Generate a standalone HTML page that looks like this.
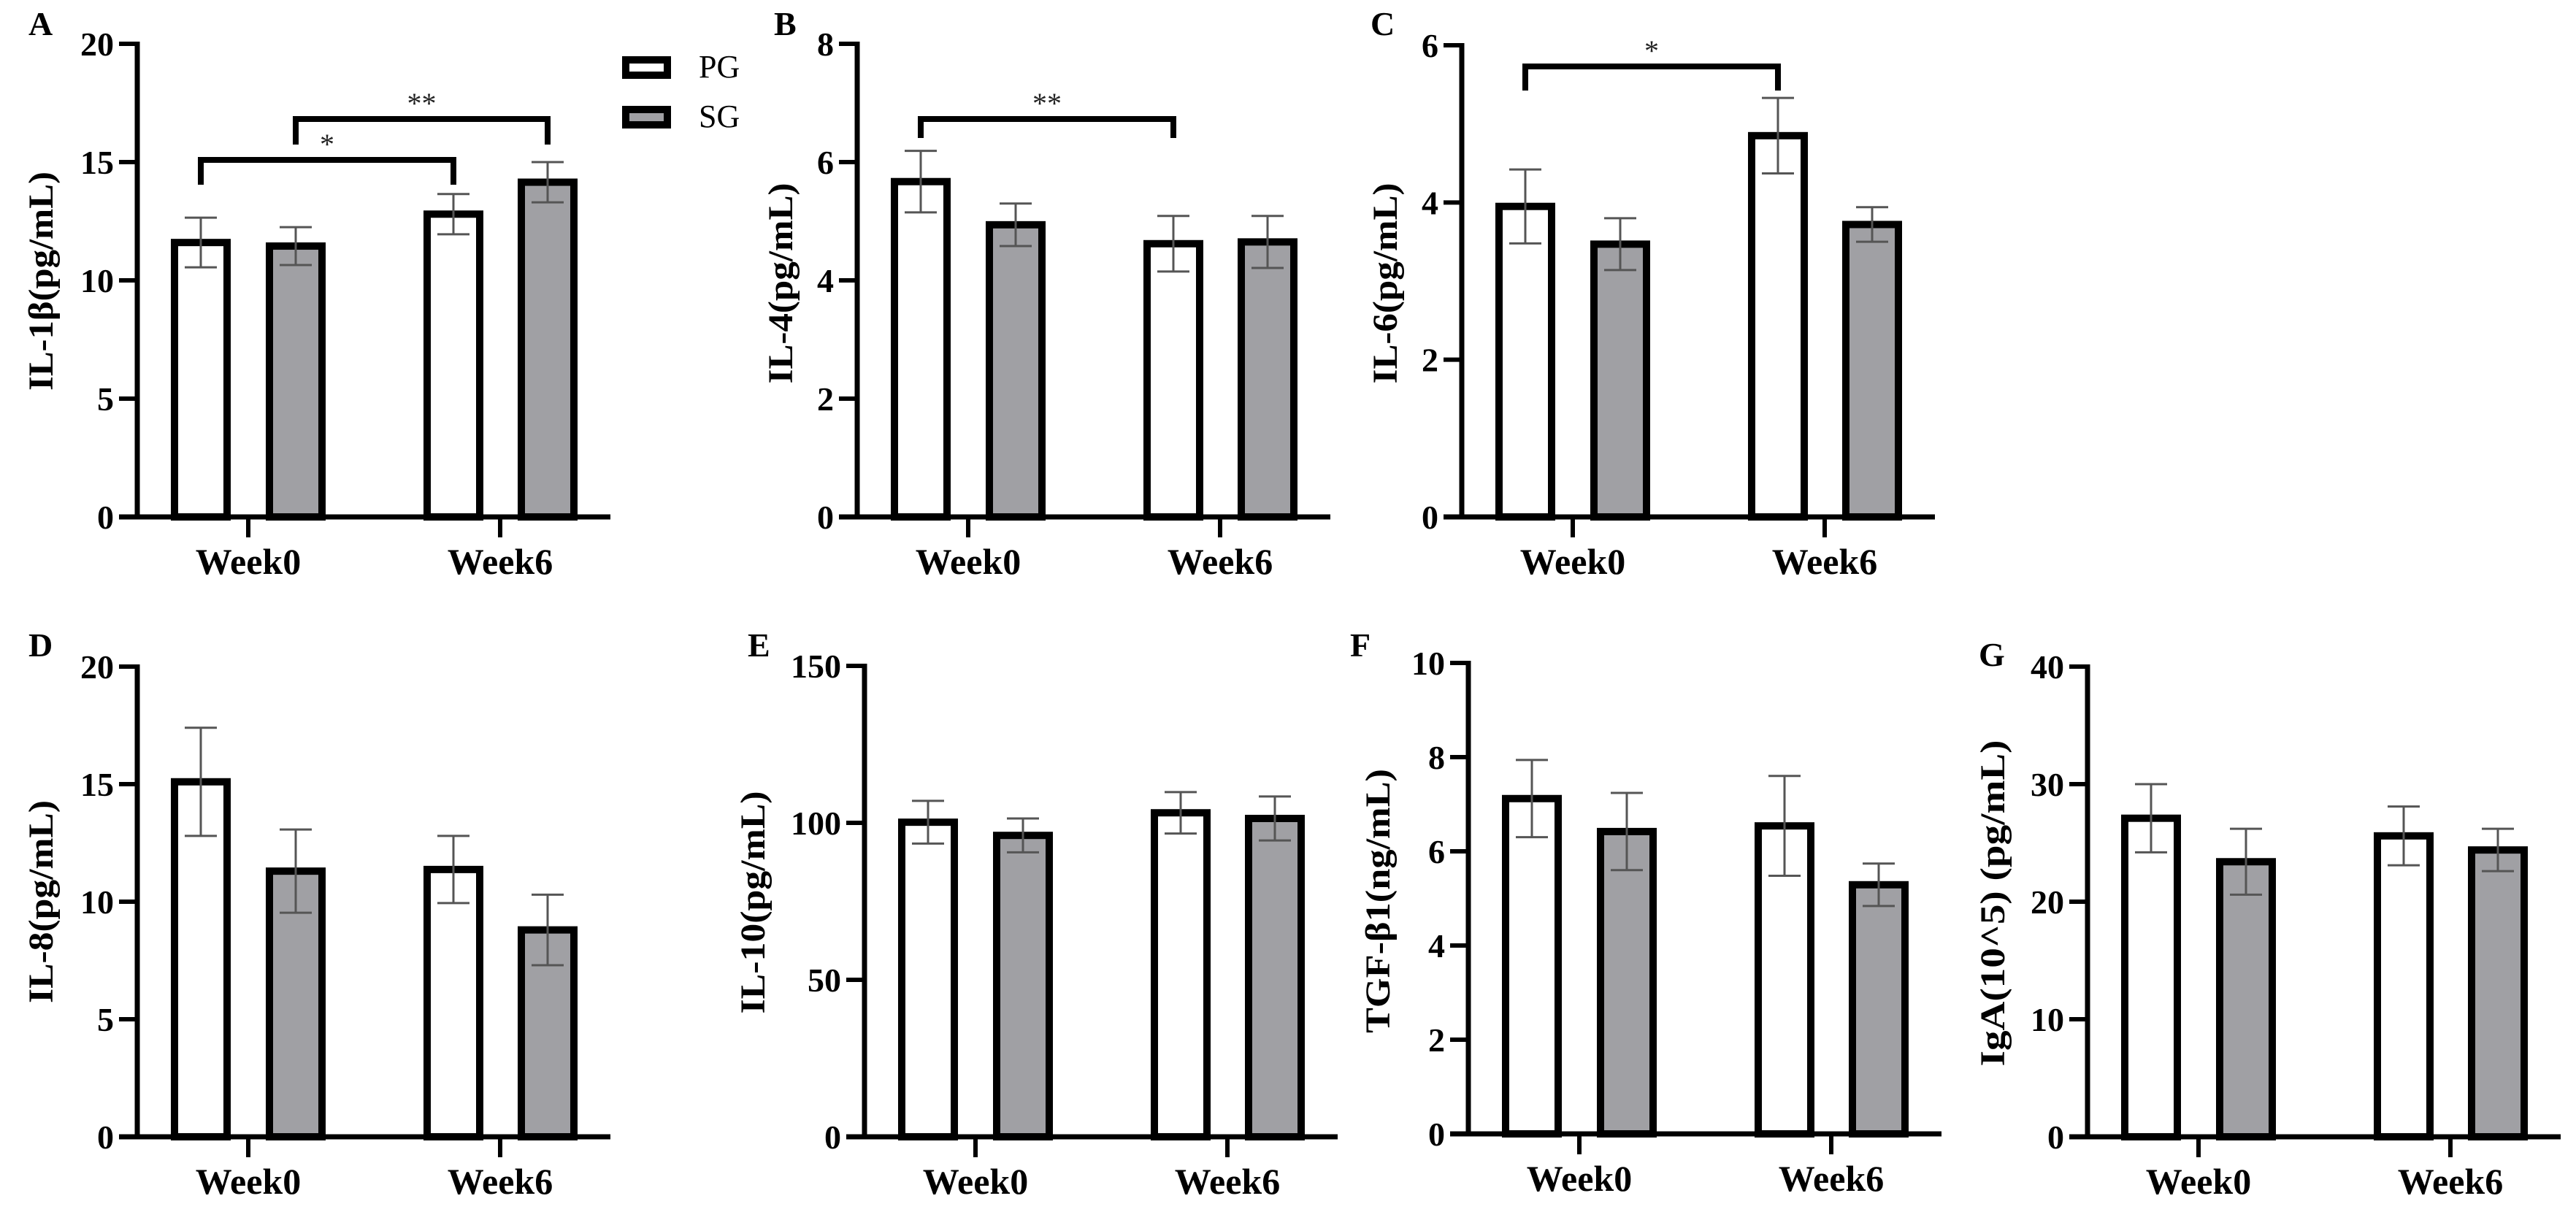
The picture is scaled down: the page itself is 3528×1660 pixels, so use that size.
<!DOCTYPE html>
<html><head><meta charset="utf-8"><style>
html,body{margin:0;padding:0;background:#fff;}
svg, svg text{font-family:"Liberation Serif","Times New Roman","DejaVu Serif",serif;}
</style></head><body>
<svg id="fig" width="3528" height="1655" viewBox="0 0 3528 1655" xmlns="http://www.w3.org/2000/svg" font-family="Liberation Serif, Times New Roman, DejaVu Serif, serif">
<g id="legend">
  <rect x="857" y="82" width="57" height="21" fill="#fff" stroke="#000" stroke-width="10"/>
  <text x="957" y="106" font-size="44" font-family="Liberation Serif, serif">PG</text>
  <rect x="857" y="150" width="57" height="21" fill="#a0a0a4" stroke="#000" stroke-width="10"/>
  <text x="957" y="174" font-size="44" font-family="Liberation Serif, serif">SG</text>
</g>
</svg>
<script>
const categories = ["Week0", "Week6"];
const groups = ["PG", "SG"];
// means: [PG Week0, SG Week0, PG Week6, SG Week6]
const aMeans = [11.6, 11.45, 12.8, 14.15];
const aErrs = [1.05, 0.8, 0.85, 0.85];
const aTicks = [0, 5, 10, 15, 20];
const bMeans = [5.67, 4.94, 4.62, 4.65];
const bErrs = [0.52, 0.36, 0.47, 0.44];
const bTicks = [0, 2, 4, 6, 8];
const cMeans = [3.95, 3.47, 4.85, 3.72];
const cErrs = [0.47, 0.33, 0.48, 0.22];
const cTicks = [0, 2, 4, 6];
const dMeans = [15.1, 11.3, 11.37, 8.8];
const dErrs = [2.3, 1.77, 1.43, 1.5];
const dTicks = [0, 5, 10, 15, 20];
const eMeans = [100.2, 96, 103.2, 101.4];
const eErrs = [6.8, 5.4, 6.6, 7.0];
const eTicks = [0, 50, 100, 150];
const fMeans = [7.12, 6.42, 6.54, 5.29];
const fErrs = [0.82, 0.82, 1.06, 0.45];
const fTicks = [0, 2, 4, 6, 8, 10];
const gMeans = [27.1, 23.4, 25.6, 24.4];
const gErrs = [2.9, 2.8, 2.5, 1.8];
const gTicks = [0, 10, 20, 30, 40];

const panels = [
 {id:"a", letter:"A", ax:188, y0:708, yt:60, means:aMeans, errs:aErrs, ticks:aTicks, label:"IL-1β(pg/mL)", lx:56, ly:385, ll:300, lp:[39,48]},
 {id:"b", letter:"B", ax:1174, y0:708, yt:60, means:bMeans, errs:bErrs, ticks:bTicks, label:"IL-4(pg/mL)", lx:1069, ly:388, ll:275, lp:[1060,48]},
 {id:"c", letter:"C", ax:2002, y0:708, yt:62, means:cMeans, errs:cErrs, ticks:cTicks, label:"IL-6(pg/mL)", lx:1897, ly:388, ll:275, lp:[1877,48]},
 {id:"d", letter:"D", ax:188, y0:1557, yt:913, means:dMeans, errs:dErrs, ticks:dTicks, label:"IL-8(pg/mL)", lx:56, ly:1235, ll:278, lp:[39,899]},
 {id:"e", letter:"E", ax:1184, y0:1557, yt:912, means:eMeans, errs:eErrs, ticks:eTicks, label:"IL-10(pg/mL)", lx:1031, ly:1236, ll:305, lp:[1024,899]},
 {id:"f", letter:"F", ax:2011, y0:1553, yt:908, means:fMeans, errs:fErrs, ticks:fTicks, label:"TGF-β1(ng/mL)", lx:1887, ly:1234, ll:362, lp:[1849,899]},
 {id:"g", letter:"G", ax:2859, y0:1557, yt:913, means:gMeans, errs:gErrs, ticks:gTicks, label:"IgA(10^5) (pg/mL)", lx:2729, ly:1237, ll:447, lp:[2710,912]}
];
const sig = {
 a:[{from:0,to:2,y:219,drop:34,txt:"*"},{from:1,to:3,y:163,drop:35,txt:"**"}],
 b:[{from:0,to:2,y:163,drop:26,txt:"**"}],
 c:[{from:0,to:2,y:91,drop:33,txt:"*"}]
};
const NS = "http://www.w3.org/2000/svg";
const svg = document.getElementById("fig");
const FF = "Liberation Serif, Times New Roman, DejaVu Serif, serif";
function mk(tag, attrs, parent){const e=document.createElementNS(NS,tag);for(const k in attrs)e.setAttribute(k,attrs[k]);if(tag==="text"){e.setAttribute("font-family",FF);e.style.fontFamily='"Liberation Serif", "Times New Roman", serif';}(parent||svg).appendChild(e);return e;}
const offs = [87, 217, 433, 562];
const tickOffs = [152, 497];
const BW = 72;
panels.forEach(p=>{
  const g = mk("g",{});
  
  
  const max = p.ticks[p.ticks.length-1];
  const ys = v => p.y0 - (v/max)*(p.y0-p.yt);
  const L = mk("text",{x:p.lp[0], y:p.lp[1], "font-size":46, "font-weight":"bold"}, g);
  L.textContent = p.letter;
  
  
  p.means.forEach((m,i)=>{
    const cx = p.ax + offs[i];
    const r = mk("rect",{x:cx-BW/2, y:ys(m), width:BW, height:p.y0-ys(m), fill: i%2? "#a0a0a4":"#fff", stroke:"#000","stroke-width":10}, g);
    
    
    const e = p.errs[i];
    const eb = mk("path",{d:`M${cx} ${ys(m+e)}V${ys(m-e)}M${cx-22} ${ys(m+e)}H${cx+22}M${cx-22} ${ys(m-e)}H${cx+22}`, stroke:"#555","stroke-width":3, fill:"none"}, g);
    
    
  });
  const ya = mk("path",{d:`M${p.ax} ${p.yt-3}V${p.y0}`, stroke:"#000","stroke-width":7}, g);
  
  
  const xa = mk("path",{d:`M${p.ax-25} ${p.y0}H${p.ax+648}`, stroke:"#000","stroke-width":7}, g);
  
  
  p.ticks.forEach(t=>{
    const y = ys(t);
    const tk = mk("path",{d:`M${p.ax-25} ${y}H${p.ax}`, stroke:"#000","stroke-width":6}, g);
    
    
    const tl = mk("text",{x:p.ax-32, y:y+16, "font-size":46, "font-weight":"bold","text-anchor":"end"}, g);
    tl.textContent = t;
    
    
  });
  categories.forEach((c,j)=>{
    const x = p.ax + tickOffs[j];
    const tk = mk("path",{d:`M${x} ${p.y0}V${p.y0+28}`, stroke:"#000","stroke-width":6}, g);
    
    
    const tl = mk("text",{x:x, y:p.y0+78, "font-size":50, "font-weight":"bold","text-anchor":"middle"}, g);
    tl.textContent = c;
    
    
  });
  const yl = mk("text",{x:0, y:0, "font-size":48, "font-weight":"bold","text-anchor":"middle", textLength:p.ll, lengthAdjust:"spacingAndGlyphs", transform:`translate(${p.lx+16},${p.ly}) rotate(-90)`}, g);
  yl.textContent = p.label;
  
  
  (sig[p.id]||[]).forEach((s,k)=>{
    const x1 = p.ax + offs[s.from], x2 = p.ax + offs[s.to];
    const br = mk("path",{d:`M${x1} ${s.y+s.drop}V${s.y}H${x2}V${s.y+s.drop}`, stroke:"#000","stroke-width":8, fill:"none"}, g);
    
    
    const st = mk("text",{x:(x1+x2)/2, y:s.y-8, "font-size":40, "text-anchor":"middle", fill:"#222"}, g);
    st.textContent = s.txt;
    
    
  });
});
</script>
</body></html>
